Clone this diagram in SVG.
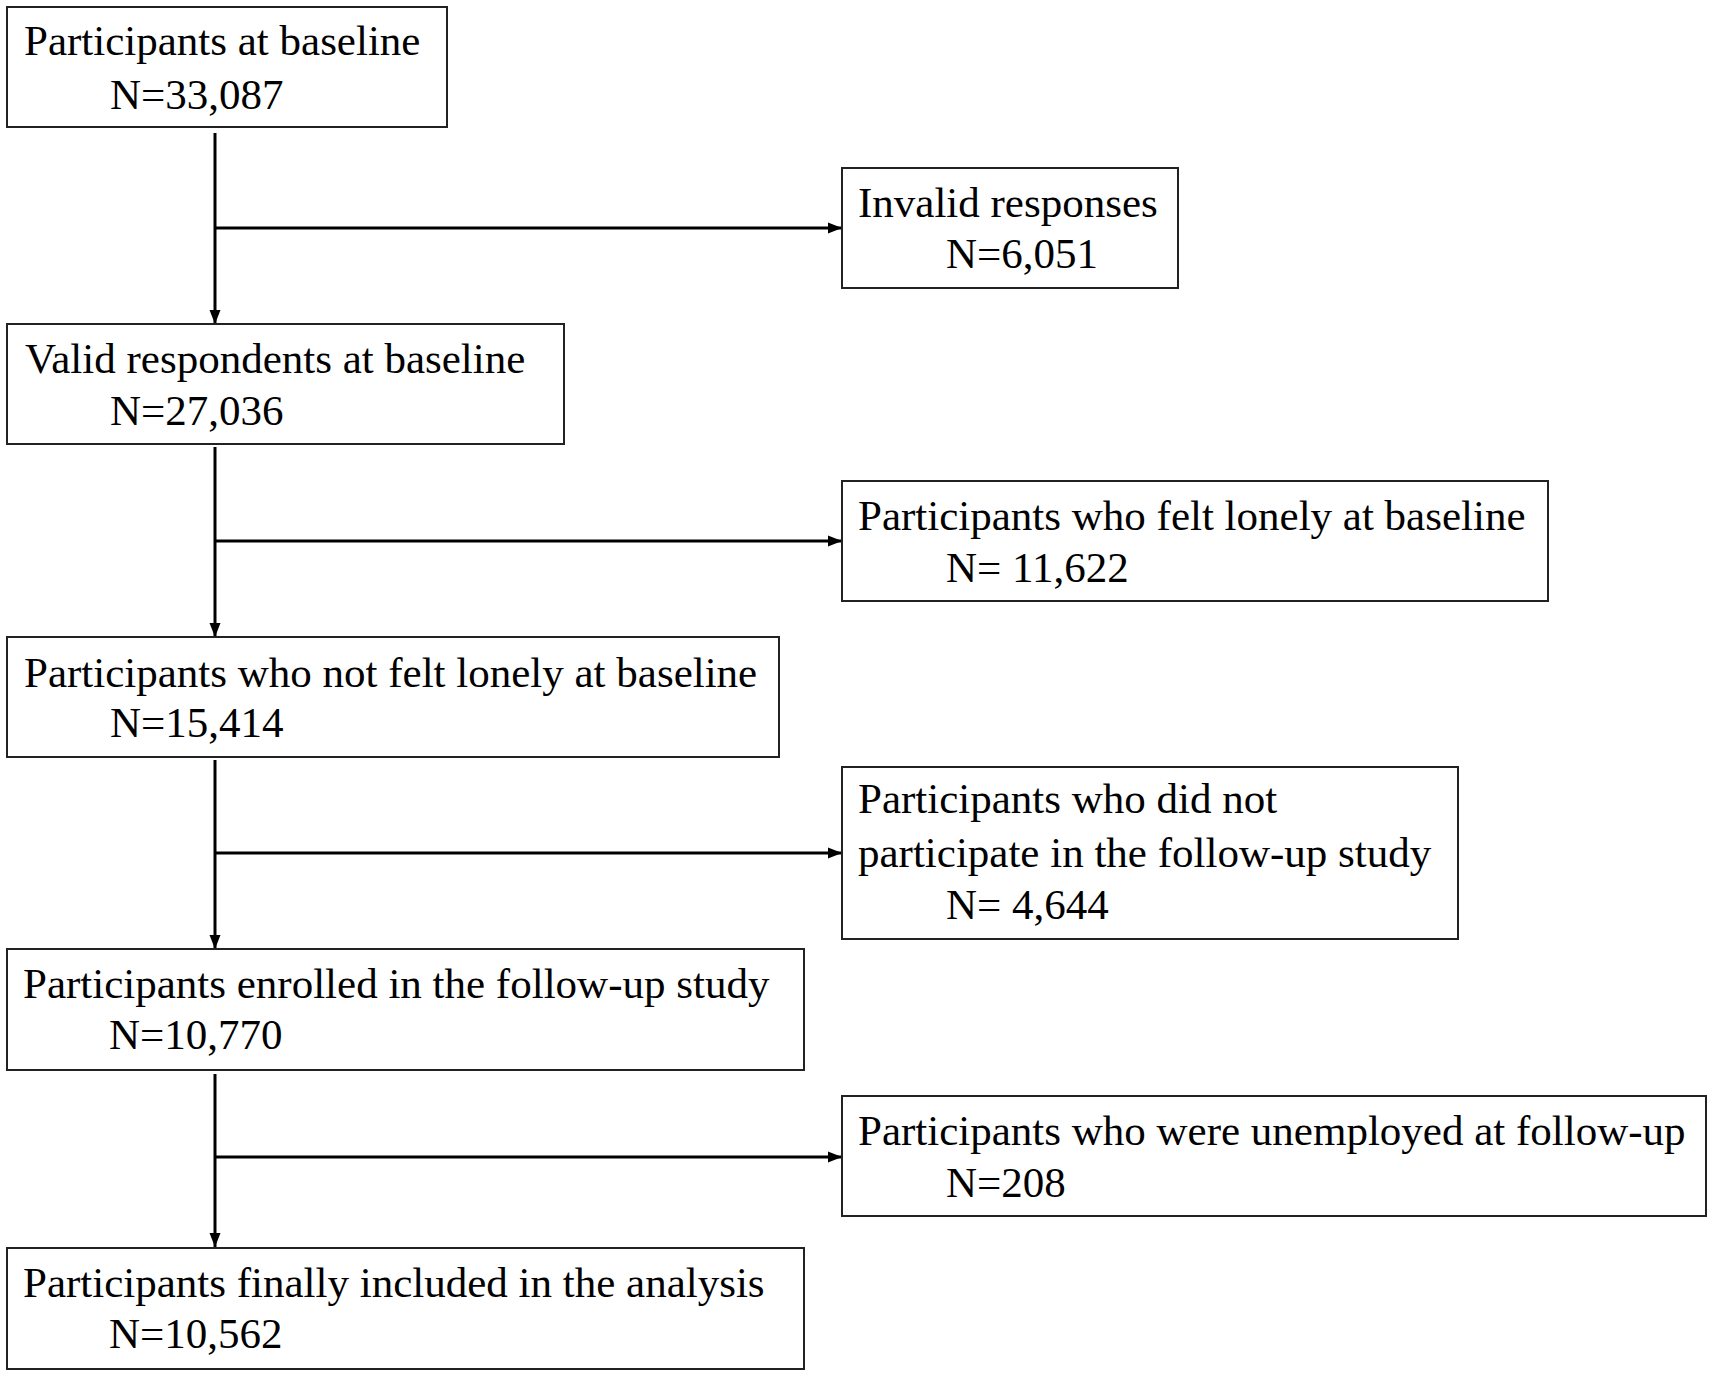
<svg xmlns="http://www.w3.org/2000/svg" width="1713" height="1376" viewBox="0 0 1713 1376">
<style>
.box{fill:#fff;stroke:#222;stroke-width:2}
.t{font-family:"Liberation Serif","Times New Roman",serif;font-size:43px;fill:#000}
.c{stroke:#000;stroke-width:3;fill:none}
</style>
<defs>
<marker id="ah" markerUnits="userSpaceOnUse" markerWidth="15" markerHeight="12" refX="14" refY="6" orient="auto">
<path d="M0,0.5 L14,6 L0,11.5 Z" fill="#000"/>
</marker>
</defs>
<rect width="1713" height="1376" fill="#fff"/>
<g id="connectors">
<line class="c" x1="215" y1="133" x2="215" y2="324" marker-end="url(#ah)"/>
<line class="c" x1="215" y1="228" x2="842" y2="228" marker-end="url(#ah)"/>
<line class="c" x1="215" y1="447" x2="215" y2="637" marker-end="url(#ah)"/>
<line class="c" x1="215" y1="541" x2="842" y2="541" marker-end="url(#ah)"/>
<line class="c" x1="215" y1="760" x2="215" y2="949" marker-end="url(#ah)"/>
<line class="c" x1="215" y1="853" x2="842" y2="853" marker-end="url(#ah)"/>
<line class="c" x1="215" y1="1074" x2="215" y2="1247" marker-end="url(#ah)"/>
<line class="c" x1="215" y1="1157" x2="842" y2="1157" marker-end="url(#ah)"/>
</g>
<g id="n1">
<rect class="box" x="7" y="7" width="440" height="120"/>
<text class="t" x="24" y="55">Participants at baseline</text>
<text class="t" x="110" y="109">N=33,087</text>
</g>
<g id="n2">
<rect class="box" x="842" y="168" width="336" height="120"/>
<text class="t" x="858" y="217">Invalid responses</text>
<text class="t" x="946" y="268">N=6,051</text>
</g>
<g id="n3">
<rect class="box" x="7" y="324" width="557" height="120"/>
<text class="t" x="25" y="373">Valid respondents at baseline</text>
<text class="t" x="110" y="425">N=27,036</text>
</g>
<g id="n4">
<rect class="box" x="842" y="481" width="706" height="120"/>
<text class="t" x="858" y="530">Participants who felt lonely at baseline</text>
<text class="t" x="946" y="582">N= 11,622</text>
</g>
<g id="n5">
<rect class="box" x="7" y="637" width="772" height="120"/>
<text class="t" x="24" y="687">Participants who not felt lonely at baseline</text>
<text class="t" x="110" y="737">N=15,414</text>
</g>
<g id="n6">
<rect class="box" x="842" y="767" width="616" height="172"/>
<text class="t" x="858" y="813">Participants who did not</text>
<text class="t" x="858" y="867">participate in the follow-up study</text>
<text class="t" x="946" y="919">N= 4,644</text>
</g>
<g id="n7">
<rect class="box" x="7" y="949" width="797" height="121"/>
<text class="t" x="23" y="998">Participants enrolled in the follow-up study</text>
<text class="t" x="109" y="1049">N=10,770</text>
</g>
<g id="n8">
<rect class="box" x="842" y="1096" width="864" height="120"/>
<text class="t" x="858" y="1145">Participants who were unemployed at follow-up</text>
<text class="t" x="946" y="1197">N=208</text>
</g>
<g id="n9">
<rect class="box" x="7" y="1248" width="797" height="121"/>
<text class="t" x="23" y="1297">Participants finally included in the analysis</text>
<text class="t" x="109" y="1348">N=10,562</text>
</g>
</svg>
